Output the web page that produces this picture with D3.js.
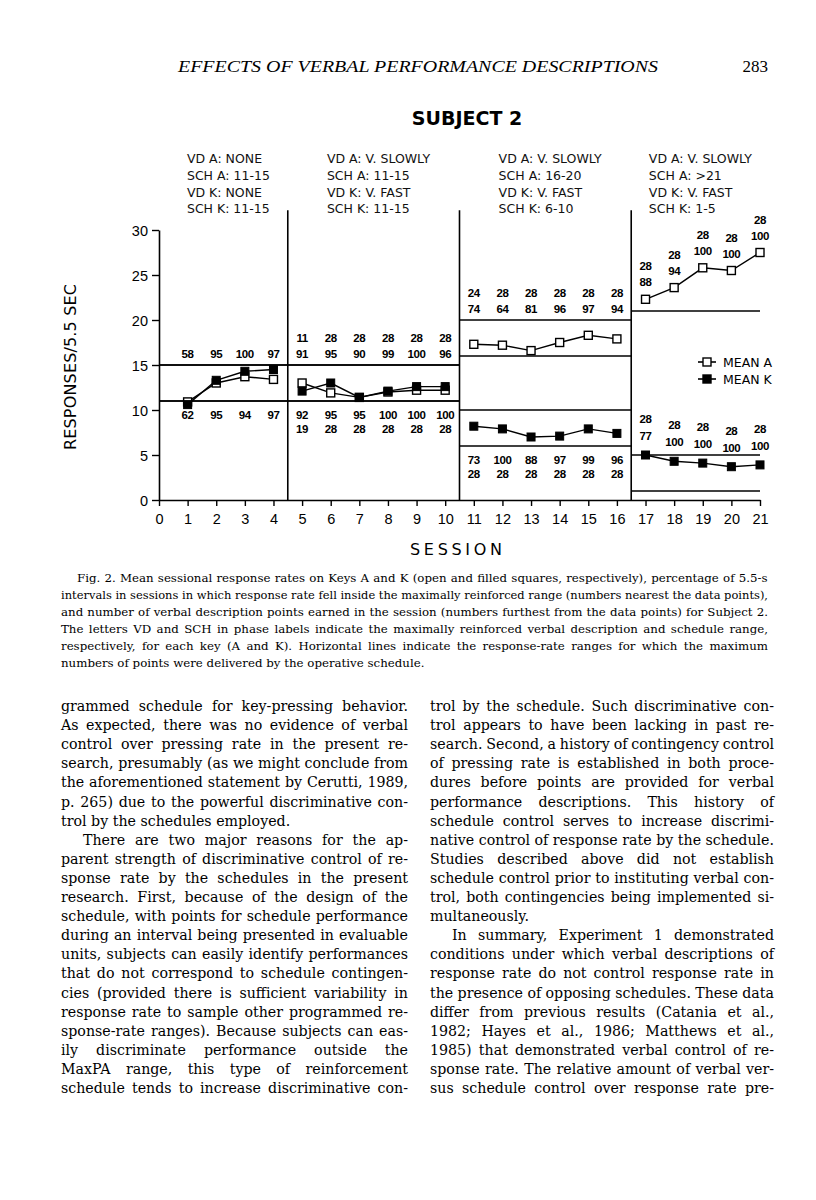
<!DOCTYPE html>
<html>
<head>
<meta charset="utf-8">
<script src="https://cdn.jsdelivr.net/npm/d3@7"></script>
<style>
  body { margin: 0; background: #fff; }
  svg { display: block; }
</style>
</head>
<body>
<div id="page"></div>
<script>
// ---- data ----
const sessions = d3.range(1, 22);
const meanA = [10.9, 13.0, 13.7, 13.4,  13.0, 11.9, 11.4, 12.0, 12.2, 12.2,  17.3, 17.2, 16.6, 17.5, 18.3, 17.9,  22.3, 23.6, 25.8, 25.5, 27.5];
const meanK = [10.6, 13.3, 14.3, 14.5,  12.1, 13.0, 11.4, 12.1, 12.6, 12.6,  8.2, 7.9, 7.0, 7.1, 7.9, 7.4,  5.0, 4.3, 4.1, 3.7, 3.9];
// percentage of intervals in range (nearest the points)
const pctA = [58, 95, 100, 97,  91, 95, 90, 99, 100, 96,  74, 64, 81, 96, 97, 94,  88, 94, 100, 100, 100];
const pctK = [62, 95, 94, 97,  92, 95, 95, 100, 100, 100,  73, 100, 88, 97, 99, 96,  77, 100, 100, 100, 100];
// verbal description points (furthest from the points)
const ptsA = [null, null, null, null,  11, 28, 28, 28, 28, 28,  24, 28, 28, 28, 28, 28,  28, 28, 28, 28, 28];
const ptsK = [null, null, null, null,  19, 28, 28, 28, 28, 28,  28, 28, 28, 28, 28, 28,  28, 28, 28, 28, 28];

const phaseFirst = [1, 5, 11, 17];
const phaseLast = [4, 10, 16, 21];
const phaseLabels = [
  ["VD A: NONE", "SCH A: 11-15", "VD K: NONE", "SCH K: 11-15"],
  ["VD A: V. SLOWLY", "SCH A: 11-15", "VD K: V. FAST", "SCH K: 11-15"],
  ["VD A: V. SLOWLY", "SCH A: 16-20", "VD K: V. FAST", "SCH K: 6-10"],
  ["VD A: V. SLOWLY", "SCH A: >21", "VD K: V. FAST", "SCH K: 1-5"]
];
const rangeA = [[11, 15], [11, 15], [16, 20], [21]];
const rangeK = [[11, 15], [11, 15], [6, 10], [1, 5]];
const labelMode = ["band", "band", "band", "point"];

const yTicks = [0, 5, 10, 15, 20, 25, 30];
const xTicks = d3.range(0, 22);

const captionLines = [
  "Fig. 2.  Mean sessional response rates on Keys A and K (open and filled squares, respectively), percentage of 5.5-s",
  "intervals in sessions in which response rate fell inside the maximally reinforced range (numbers nearest the data points),",
  "and number of verbal description points earned in the session (numbers furthest from the data points) for Subject 2.",
  "The letters VD and SCH in phase labels indicate the maximally reinforced verbal description and schedule range,",
  "respectively, for each key (A and K). Horizontal lines indicate the response-rate ranges for which the maximum",
  "numbers of points were delivered by the operative schedule.|"
];

// "\t" = paragraph indent, trailing "|" = last line of a paragraph (not justified)
const leftColumn = [
  "grammed schedule for key-pressing behavior.",
  "As expected, there was no evidence of verbal",
  "control over pressing rate in the present re-",
  "search, presumably (as we might conclude from",
  "the aforementioned statement by Cerutti, 1989,",
  "p. 265) due to the powerful discriminative con-",
  "trol by the schedules employed.|",
  "\tThere are two major reasons for the ap-",
  "parent strength of discriminative control of re-",
  "sponse rate by the schedules in the present",
  "research. First, because of the design of the",
  "schedule, with points for schedule performance",
  "during an interval being presented in evaluable",
  "units, subjects can easily identify performances",
  "that do not correspond to schedule contingen-",
  "cies (provided there is sufficient variability in",
  "response rate to sample other programmed re-",
  "sponse-rate ranges). Because subjects can eas-",
  "ily discriminate performance outside the",
  "MaxPA range, this type of reinforcement",
  "schedule tends to increase discriminative con-"
];
const rightColumn = [
  "trol by the schedule. Such discriminative con-",
  "trol appears to have been lacking in past re-",
  "search. Second, a history of contingency control",
  "of pressing rate is established in both proce-",
  "dures before points are provided for verbal",
  "performance descriptions. This history of",
  "schedule control serves to increase discrimi-",
  "native control of response rate by the schedule.",
  "Studies described above did not establish",
  "schedule control prior to instituting verbal con-",
  "trol, both contingencies being implemented si-",
  "multaneously.|",
  "\tIn summary, Experiment 1 demonstrated",
  "conditions under which verbal descriptions of",
  "response rate do not control response rate in",
  "the presence of opposing schedules. These data",
  "differ from previous results (Catania et al.,",
  "1982; Hayes et al., 1986; Matthews et al.,",
  "1985) that demonstrated verbal control of re-",
  "sponse rate. The relative amount of verbal ver-",
  "sus schedule control over response rate pre-"
];

// ---- page ----
const W = 816, H = 1200;
const svg = d3.select("#page").append("svg")
  .attr("width", W).attr("height", H);
svg.append("rect").attr("width", W).attr("height", H).attr("fill", "#fff");

const serif = "'Liberation Serif', 'Times New Roman', serif";
const bookSerif = "'DejaVu Serif', serif";
const sans = "'DejaVu Sans', sans-serif";

// running head
svg.append("text")
  .attr("x", 178).attr("y", 72)
  .attr("font-family", serif).attr("font-style", "italic").attr("font-size", 17)
  .attr("textLength", 480).attr("lengthAdjust", "spacingAndGlyphs")
  .text("EFFECTS OF VERBAL PERFORMANCE DESCRIPTIONS");
svg.append("text")
  .attr("x", 768).attr("y", 72).attr("text-anchor", "end")
  .attr("font-family", serif).attr("font-size", 17)
  .text("283");

// title
svg.append("text")
  .attr("x", 467).attr("y", 125).attr("text-anchor", "middle")
  .attr("font-family", sans).attr("font-weight", "bold").attr("font-size", 19)
  .text("SUBJECT 2");

// ---- chart ----
const x = d3.scaleLinear().domain([0, 21]).range([159, 760]);
const y = d3.scaleLinear().domain([0, 30]).range([500, 230]);
const chart = svg.append("g");

// phase labels, centred over each phase
phaseLabels.forEach(function(lines, p) {
  let g = chart.append("g");
  g.selectAll("text").data(lines).enter().append("text")
    .attr("x", 0)
    .attr("y", (d, i) => 163 + i * 16.8)
    .attr("font-family", sans).attr("font-size", 12.5)
    .attr("fill", "#111")
    .text(d => d);
  let bw = g.node().getBBox().width;
  let left = p == 0 ? x(0) : x(phaseFirst[p] - 0.5);
  let right = phaseLast[p] == 21 ? x(21) : x(phaseLast[p] + 0.5);
  g.attr("transform", "translate(" + ((left + right) / 2 - bw / 2 + 5) + ",0)");
});

// x axis
chart.append("g")
  .attr("transform", "translate(0," + y(0) + ")")
  .call(d3.axisBottom(x).tickValues(xTicks).tickSize(6).tickSizeOuter(0).tickPadding(8))
  .call(g => g.select(".domain").attr("stroke", "#000").attr("stroke-width", 1.6))
  .call(g => g.selectAll(".tick line").attr("stroke", "#000").attr("stroke-width", 1.4))
  .call(g => g.selectAll(".tick text").attr("font-family", "'Liberation Sans', sans-serif")
    .attr("font-size", 14.5).attr("fill", "#000"));

// y axis
chart.append("g")
  .attr("transform", "translate(" + x(0) + ",0)")
  .call(d3.axisLeft(y).tickValues(yTicks).tickSize(7).tickSizeOuter(0).tickPadding(4))
  .call(g => g.select(".domain").attr("stroke", "#000").attr("stroke-width", 1.6))
  .call(g => g.selectAll(".tick line").attr("stroke", "#000").attr("stroke-width", 1.4))
  .call(g => g.selectAll(".tick text").attr("font-family", "'Liberation Sans', sans-serif")
    .attr("font-size", 14.5).attr("fill", "#000").attr("dy", "0.35em"));

// axis titles
svg.append("text")
  .attr("x", 410).attr("y", 555)
  .attr("font-family", sans).attr("font-size", 16)
  .attr("textLength", 92).attr("lengthAdjust", "spacing")
  .text("SESSION");
svg.append("text")
  .attr("transform", "translate(76,450) rotate(-90)")
  .attr("font-family", sans).attr("font-size", 16)
  .attr("textLength", 166).attr("lengthAdjust", "spacing")
  .text("RESPONSES/5.5 SEC");

// phase dividers
chart.selectAll(".divider")
  .data(phaseFirst.slice(1))
  .enter().append("line")
  .attr("class", "divider")
  .attr("x1", d => x(d - 0.5)).attr("x2", d => x(d - 0.5))
  .attr("y1", y(32.2)).attr("y2", y(0))
  .attr("stroke", "#000").attr("stroke-width", 1.6);

// schedule range lines
let rangeSegs = [];
phaseFirst.forEach(function(f, p) {
  let x1 = p == 0 ? x(0) : x(f - 0.5);
  let x2 = phaseLast[p] == 21 ? x(21) : x(phaseLast[p] + 0.5);
  rangeA[p].concat(rangeK[p]).forEach(v => rangeSegs.push({x1: x1, x2: x2, v: v}));
});
chart.selectAll(".range")
  .data(rangeSegs)
  .enter().append("line")
  .attr("class", "range")
  .attr("x1", d => d.x1).attr("x2", d => d.x2)
  .attr("y1", d => y(d.v)).attr("y2", d => y(d.v))
  .attr("stroke", "#000").attr("stroke-width", 1.5);

// data lines, one per phase per key
const line = d3.line().x(d => x(d.s)).y(d => y(d.v));
phaseFirst.forEach(function(f, p) {
  let idx = d3.range(f - 1, phaseLast[p]);
  [meanA, meanK].forEach(function(series) {
    chart.append("path")
      .datum(idx.map(i => ({s: sessions[i], v: series[i]})))
      .attr("d", line)
      .attr("fill", "none").attr("stroke", "#000").attr("stroke-width", 1.4);
  });
});

const sq = 8;
chart.selectAll(".ptA")
  .data(sessions)
  .enter().append("rect")
  .attr("class", "ptA")
  .attr("x", (d, i) => x(d) - sq / 2).attr("y", (d, i) => y(meanA[i]) - sq / 2)
  .attr("width", sq).attr("height", sq)
  .attr("fill", "#fff").attr("stroke", "#000").attr("stroke-width", 1.4);
chart.selectAll(".ptK")
  .data(sessions)
  .enter().append("rect")
  .attr("class", "ptK")
  .attr("x", (d, i) => x(d) - sq / 2).attr("y", (d, i) => y(meanK[i]) - sq / 2)
  .attr("width", sq).attr("height", sq)
  .attr("fill", "#000").attr("stroke", "#000").attr("stroke-width", 1);

// number labels
function phaseOf(s) {
  return phaseFirst.findIndex((f, p) => s >= f && s <= phaseLast[p]);
}
let labels = [];
sessions.forEach(function(s, i) {
  let p = phaseOf(s);
  let aNear, kNear;
  if (labelMode[p] == "band") {
    aNear = y(rangeA[p][1]) - 7;
    kNear = y(rangeK[p][0]) + 18;
    labels.push({s: s, t: pctA[i], yy: aNear});
    if (ptsA[i] != null) labels.push({s: s, t: ptsA[i], yy: aNear - 16});
    labels.push({s: s, t: pctK[i], yy: kNear});
    if (ptsK[i] != null) labels.push({s: s, t: ptsK[i], yy: kNear + 14});
  } else {
    aNear = y(meanA[i]) - 13;
    kNear = y(meanK[i]) - 15;
    labels.push({s: s, t: pctA[i], yy: aNear});
    if (ptsA[i] != null) labels.push({s: s, t: ptsA[i], yy: aNear - 16});
    labels.push({s: s, t: pctK[i], yy: kNear});
    if (ptsK[i] != null) labels.push({s: s, t: ptsK[i], yy: kNear - 17});
  }
});
chart.selectAll(".num")
  .data(labels)
  .enter().append("text")
  .attr("class", "num")
  .attr("x", d => x(d.s)).attr("y", d => d.yy)
  .attr("text-anchor", "middle")
  .attr("font-family", "'Liberation Sans', sans-serif").attr("font-weight", "bold")
  .attr("font-size", 11.5).attr("letter-spacing", -0.4)
  .text(d => d.t);

// legend
const legendItems = [{name: "MEAN A", fill: "#fff"}, {name: "MEAN K", fill: "#000"}];
let lg = chart.selectAll(".legend")
  .data(legendItems)
  .enter().append("g")
  .attr("class", "legend")
  .attr("transform", (d, i) => "translate(707," + (362 + i * 17) + ")");
lg.append("line").attr("x1", -9).attr("x2", 9)
  .attr("stroke", "#000").attr("stroke-width", 1.6);
lg.append("rect").attr("x", -sq / 2).attr("y", -sq / 2)
  .attr("width", sq).attr("height", sq)
  .attr("fill", d => d.fill).attr("stroke", "#000").attr("stroke-width", 1.4);
lg.append("text").attr("x", 16).attr("y", 0).attr("dy", "0.36em")
  .attr("font-family", sans).attr("font-size", 12.5)
  .text(d => d.name);

// ---- justified text blocks ----
// word spacing is stretched to fill the measure; lines that are too long get squeezed a little
function textBlock(lines, left, right, top, lead, size, firstIndent, indentSize) {
  svg.append("g").selectAll("text")
    .data(lines)
    .enter().append("text")
    .attr("font-family", bookSerif).attr("font-size", size)
    .attr("y", (d, i) => top + i * lead)
    .each(function(d, i) {
      let indent = d.startsWith("\t") || (i == 0 && firstIndent);
      let last = d.endsWith("|");
      let str = d.replace("\t", "").replace("|", "");
      let t = d3.select(this);
      let x0 = left + (indent ? indentSize : 0);
      t.attr("x", x0).text(str);
      if (!last) {
        let w = this.getComputedTextLength();
        let gaps = (str.match(/ /g) || []).length;
        let ws = gaps > 0 ? (right - x0 - w) / gaps : 0;
        if (ws >= -0.8) {
          t.attr("word-spacing", ws);
        } else {
          t.attr("textLength", right - x0).attr("lengthAdjust", "spacingAndGlyphs");
        }
      }
    });
}
textBlock(captionLines, 61, 768, 582, 17, 11.8, true, 16);
textBlock(leftColumn, 61, 408, 711, 19.1, 14.2, false, 22);
textBlock(rightColumn, 430, 774, 711, 19.1, 14.2, false, 22);
</script>
</body>
</html>
